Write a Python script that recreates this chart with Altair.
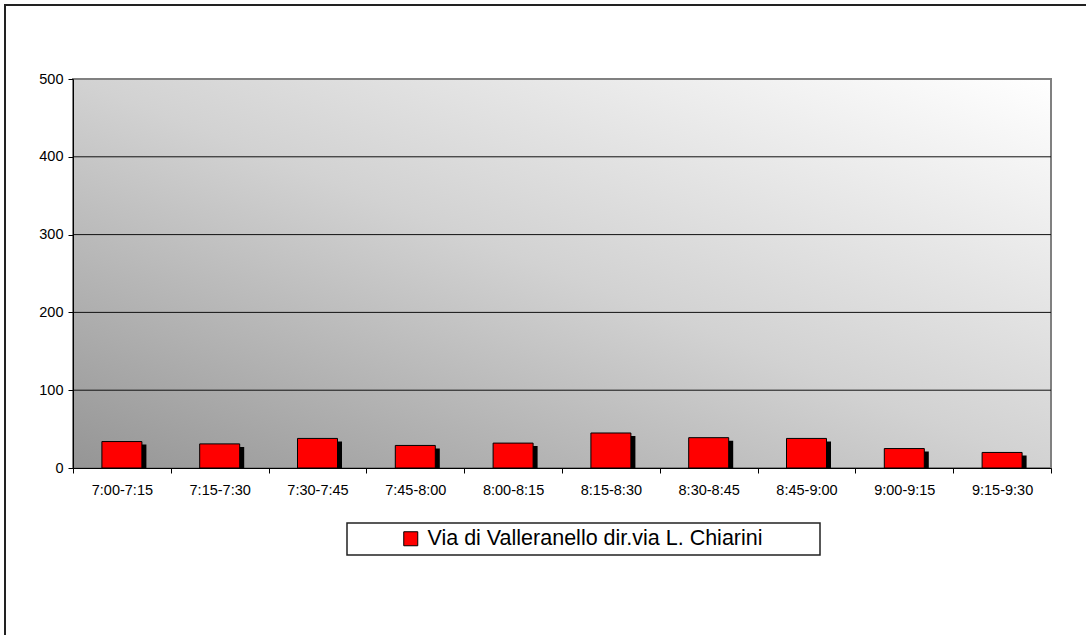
import altair as alt
import pandas as pd

categories = ["7:00-7:15", "7:15-7:30", "7:30-7:45", "7:45-8:00", "8:00-8:15",
              "8:15-8:30", "8:30-8:45", "8:45-9:00", "9:00-9:15", "9:15-9:30"]
values = [34, 31, 38, 29, 32, 45, 39, 38, 25, 20]
series_name = "Via di Valleranello dir.via L. Chiarini"
y_ticks = [0, 100, 200, 300, 400, 500]
grid_values = [100, 200, 300, 400]

W, H = 978, 389
FONT = "Liberation Sans"

df = pd.DataFrame({"cat": categories, "val": values, "series": series_name})
grid_df = pd.DataFrame({"g": grid_values})

xscale = alt.Scale(domain=categories, paddingInner=0, paddingOuter=0)
yscale = alt.Scale(domain=[0, 500], nice=False)

# outer chart border
outer = alt.Chart(pd.DataFrame({"a": [0]})).mark_rect(
    fill="white", stroke="#222222", strokeWidth=2
).encode(x=alt.value(5 - 73), x2=alt.value(1100 - 73), y=alt.value(5 - 79), y2=alt.value(650 - 79))

# plot-area gradient background
bg = alt.Chart(pd.DataFrame({"a": [0]})).mark_rect(
    fill=alt.Gradient(
        gradient="linear",
        stops=[alt.GradientStop(color="#959595", offset=0),
               alt.GradientStop(color="#d2d2d2", offset=0.5),
               alt.GradientStop(color="#ffffff", offset=1)],
        x1=0, y1=1, x2=1, y2=0),
    stroke="#808080", strokeWidth=2
).encode(x=alt.value(0), x2=alt.value(W), y=alt.value(0), y2=alt.value(H))

grid = alt.Chart(grid_df).mark_rule(color="#111111", strokeWidth=1).encode(
    y=alt.Y("g:Q", scale=yscale)
)

shadow = alt.Chart(df).mark_bar(color="black", size=40, xOffset=4.5, yOffset=3,
                                clip=True).encode(
    x=alt.X("cat:N", scale=xscale, sort=categories),
    y=alt.Y("val:Q", scale=yscale),
)

bars = alt.Chart(df).mark_bar(size=40, stroke="black", strokeWidth=1).encode(
    x=alt.X("cat:N", scale=xscale, sort=categories,
            axis=alt.Axis(title=None, labelAngle=0, tickBand="extent", tickSize=5,
                          tickColor="black", domainColor="black", labelFont=FONT,
                          labelFontSize=14.5, labelColor="black", labelPadding=17,
                          labelAlign="center",
                          zindex=1)),
    y=alt.Y("val:Q", scale=yscale,
            axis=alt.Axis(title=None, values=y_ticks, grid=False, tickSize=5,
                          tickColor="black", domainColor="black", labelFont=FONT,
                          labelFontSize=14.5, labelColor="black", labelPadding=5,
                          zindex=1)),
    color=alt.Color("series:N", scale=alt.Scale(range=["#ff0000"]),
                    legend=alt.Legend(orient="none", legendX=327, legendY=449, title=None,
                                      symbolType="square", symbolSize=196,
                                      symbolStrokeColor="black", symbolStrokeWidth=1,
                                      symbolOpacity=1, labelFont=FONT, labelFontSize=21.5,
                                      labelColor="black", labelOffset=6, padding=0,
                                      labelLimit=0)),
)

legend_box = alt.Chart(pd.DataFrame({"a": [0]})).mark_rect(
    fill="white", stroke="#222222", strokeWidth=1.5
).encode(x=alt.value(347 - 73), x2=alt.value(820 - 73), y=alt.value(523 - 79), y2=alt.value(555 - 79))

chart = alt.layer(outer, bg, grid, shadow, bars, legend_box).properties(
    width=W, height=H,
    autosize=alt.AutoSizeParams(type="none"),
    padding={"left": 73, "top": 79, "right": 35, "bottom": 167},
).configure_view(stroke=None).configure(background="white")

chart.save("out.html", embed_options={"renderer": "svg", "actions": False})
